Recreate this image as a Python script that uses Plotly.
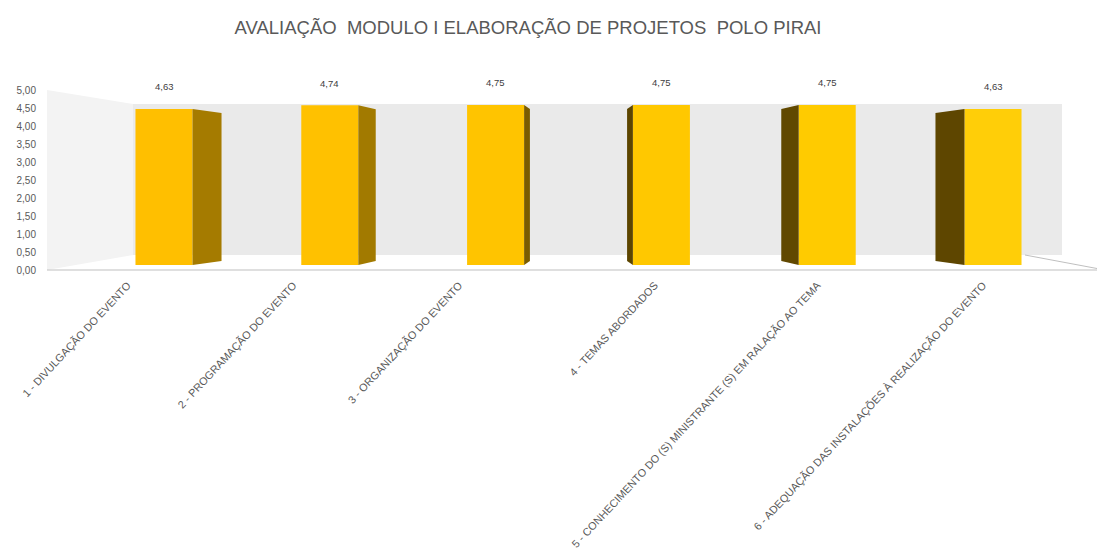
import plotly.graph_objects as go

# ---- data ----
categories = [
    "1 - DIVULGAÇÃO DO EVENTO",
    "2 - PROGRAMAÇÃO DO EVENTO",
    "3 - ORGANIZAÇÃO DO EVENTO",
    "4 - TEMAS ABORDADOS",
    "5 - CONHECIMENTO DO (S) MINISTRANTE (S) EM RALAÇÃO AO TEMA",
    "6 - ADEQUAÇÃO DAS INSTALAÇÕES À REALIZAÇÃO DO EVENTO",
]
values = [4.63, 4.74, 4.75, 4.75, 4.75, 4.63]
value_labels = ["4,63", "4,74", "4,75", "4,75", "4,75", "4,63"]
y_tick_vals = [0, 0.5, 1, 1.5, 2, 2.5, 3, 3.5, 4, 4.5, 5]
y_tick_text = ["0,00", "0,50", "1,00", "1,50", "2,00", "2,50", "3,00", "3,50", "4,00", "4,50", "5,00"]
title_text = "AVALIAÇÃO  MODULO I ELABORAÇÃO DE PROJETOS  POLO PIRAI"

# ---- style ----
front_colors = ["#FFBF00", "#FFC100", "#FFC400", "#FFC800", "#FFCB00", "#FFCE08"]
side_colors = ["#A57B00", "#A27A00", "#7A5C00", "#5C4500", "#614800", "#5E4600"]
label_offsets = [-0.22, -0.22, -0.22, -0.04, -0.06, -0.06]  # category label anchors
BAR_W = 0.344
PERSP = 0.07     # lateral perspective offset per index from centre
SHRINK = 0.12    # vertical shrink of back edge
FONT = "Liberation Sans, Arial"
GREY = "#595959"

n = len(values)
xs = list(range(n))
centre = (n - 1) / 2

fig = go.Figure()

# side faces (3D look), computed from the data values
for i, v in enumerate(values):
    d = PERSP * (i - centre)
    sign = 1 if d > 0 else -1
    x_front = i - sign * BAR_W / 2
    x_back = x_front - d
    fig.add_trace(go.Scatter(
        x=[x_front, x_back, x_back, x_front, x_front],
        y=[0, SHRINK, v - SHRINK, v, 0],
        fill="toself", fillcolor=side_colors[i], mode="lines",
        line=dict(width=0, color=side_colors[i]),
        hoverinfo="skip", showlegend=False,
    ))

# front faces
fig.add_trace(go.Bar(
    x=xs, y=values, width=BAR_W,
    marker=dict(color=front_colors, line=dict(width=0)),
    showlegend=False, hovertext=categories, hoverinfo="text+y",
))

# value labels
for i, (v, t) in enumerate(zip(values, value_labels)):
    fig.add_annotation(x=i, y=v, text=t, showarrow=False, yshift=22,
                       font=dict(size=9.5, color="#404040", family=FONT))

# page offset (body margin) compensation: reference px -> figure px
OFF = 8
W, H = 1105 - OFF, 559 - OFF
# plot area in reference px
PL, PR, PT, PB = 42, 1105, 90, 270
L, R = PL - OFF, (1105 - OFF) - (PR - OFF)
T, B = PT - OFF, H - (PB - OFF)
pw = PR - PL
ph = PB - PT

def px(xp):
    return (xp - PL) / pw

def py(yp):
    return (PB - yp) / ph

shapes = [
    dict(type="path", xref="paper", yref="paper", layer="below",
         path=f"M {px(47)},{py(90)} L {px(133)},{py(104)} L {px(133)},{py(255)} L {px(47)},{py(270)} Z",
         fillcolor="#F3F3F3", line=dict(width=0)),
    dict(type="rect", xref="paper", yref="paper", layer="below",
         x0=px(133), x1=px(1062), y0=py(255), y1=py(104),
         fillcolor="#EAEAEA", line=dict(width=0)),
    dict(type="line", xref="paper", yref="paper", layer="below",
         x0=px(47), x1=px(1105), y0=py(270), y1=py(270),
         line=dict(color="#BFBFBF", width=1.2)),
    dict(type="line", xref="paper", yref="paper", layer="below",
         x0=px(1025), x1=px(1105), y0=py(255), y1=py(270),
         line=dict(color="#BFBFBF", width=1)),
]

# y ranges: bars scale (0 at 265px, 33.7px/unit); tick axis 0..5 over 270..90
bar_px_per_unit = 33.7
y_lo = -(PB - 265) / bar_px_per_unit
y_hi = (265 - PT) / bar_px_per_unit

x_lo = (PL - 164) / 165.8
x_hi = (PR - 164) / 165.8

fig.update_layout(
    width=W, height=H,
    margin=dict(l=L, r=R, t=T, b=B, autoexpand=False),
    paper_bgcolor="white", plot_bgcolor="rgba(0,0,0,0)",
    title=dict(text=title_text, x=(528 - OFF) / W, xanchor="center",
               y=1 - (28 - OFF) / H, yanchor="middle",
               font=dict(size=18.5, color=GREY, family=FONT)),
    shapes=shapes,
    xaxis=dict(range=[x_lo, x_hi], automargin=False,
               tickvals=[i + o for i, o in zip(xs, label_offsets)],
               ticktext=categories, tickangle=-47, ticklabelstandoff=6,
               tickfont=dict(size=10.8, color=GREY, family=FONT),
               showgrid=False, zeroline=False, showline=False, ticks=""),
    yaxis=dict(range=[y_lo, y_hi], visible=False, showgrid=False, zeroline=False, automargin=False),
    yaxis2=dict(range=[0, 5], overlaying="y", side="left", automargin=False,
                tickvals=y_tick_vals, ticktext=y_tick_text, ticklabelstandoff=5,
                tickfont=dict(size=10, color=GREY, family=FONT),
                showgrid=False, zeroline=False, showline=False, ticks=""),
    font=dict(family=FONT, color=GREY),
)
# invisible trace to activate yaxis2
fig.add_trace(go.Scatter(x=[xs[0]], y=[0], yaxis="y2", mode="markers",
                         marker=dict(opacity=0), hoverinfo="skip", showlegend=False))

fig.write_html("out.html")
